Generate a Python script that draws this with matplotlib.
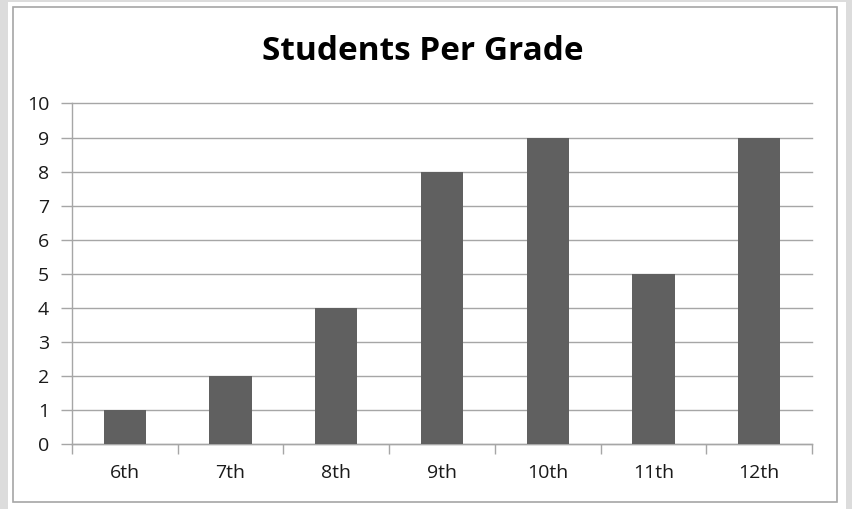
import matplotlib
matplotlib.use("Agg")
import matplotlib.pyplot as plt
from matplotlib.patches import Rectangle

grades = ["6th", "7th", "8th", "9th", "10th", "11th", "12th"]
students = [1, 2, 4, 8, 9, 5, 9]
yticks = list(range(0, 11))

W, H = 852, 509
fig = plt.figure(figsize=(W / 100, H / 100), dpi=100)
fig.patch.set_facecolor("#dcdcdc")
plt.rcParams['font.family'] = ['Open Sans', 'DejaVu Sans']

# background axes for white panel and inner border
bg = fig.add_axes([0, 0, 1, 1], zorder=-10)
bg.set_xlim(0, W)
bg.set_ylim(H, 0)
bg.axis("off")
bg.add_patch(Rectangle((8, 2), 846 - 8, H - 2, facecolor="white", edgecolor="none"))
bg.add_patch(Rectangle((13, 7), 837 - 13, 502 - 7, facecolor="white",
                       edgecolor="#a6a6a6", linewidth=1.2))

left, right, top, bottom = 72, 812, 103.5, 444
ax = fig.add_axes([left / W, 1 - bottom / H, (right - left) / W, (bottom - top) / H], zorder=5)
ax.set_facecolor("none")

x = list(range(len(grades)))
ax.bar(x, students, width=0.4, color="#606060", zorder=3)
ax.set_xlim(-0.5, len(grades) - 0.5)
ax.set_ylim(0, 10)
ax.set_yticks(yticks)
ax.set_yticklabels([str(v) for v in yticks], fontsize=14, color="#1a1a1a")
ax.yaxis.grid(True, color="#a6a6a6", linewidth=1.0, zorder=0)
ax.set_axisbelow(True)
for gl in ax.get_ygridlines():
    gl.set_clip_on(False)

ax.set_xticks(x)
ax.set_xticklabels(grades, fontsize=14, color="#1a1a1a")
ax.tick_params(axis="x", which="major", length=0, pad=14.5)
ax.set_xticks([i - 0.5 for i in range(len(grades) + 1)], minor=True)
ax.tick_params(axis="x", which="minor", length=7, color="#a6a6a6", width=1.0)
ax.tick_params(axis="y", length=8, color="#a6a6a6", width=1.0, pad=8.5)

for s in ["top", "right"]:
    ax.spines[s].set_visible(False)
for s in ["left", "bottom"]:
    ax.spines[s].set_color("#a6a6a6")
    ax.spines[s].set_linewidth(1.0)

fig.text(423 / W, 1 - 52 / H, "Students Per Grade", ha="center", va="center",
         fontsize=24, fontweight="bold", color="black")

fig.savefig("out.png", dpi=100, facecolor=fig.get_facecolor())
